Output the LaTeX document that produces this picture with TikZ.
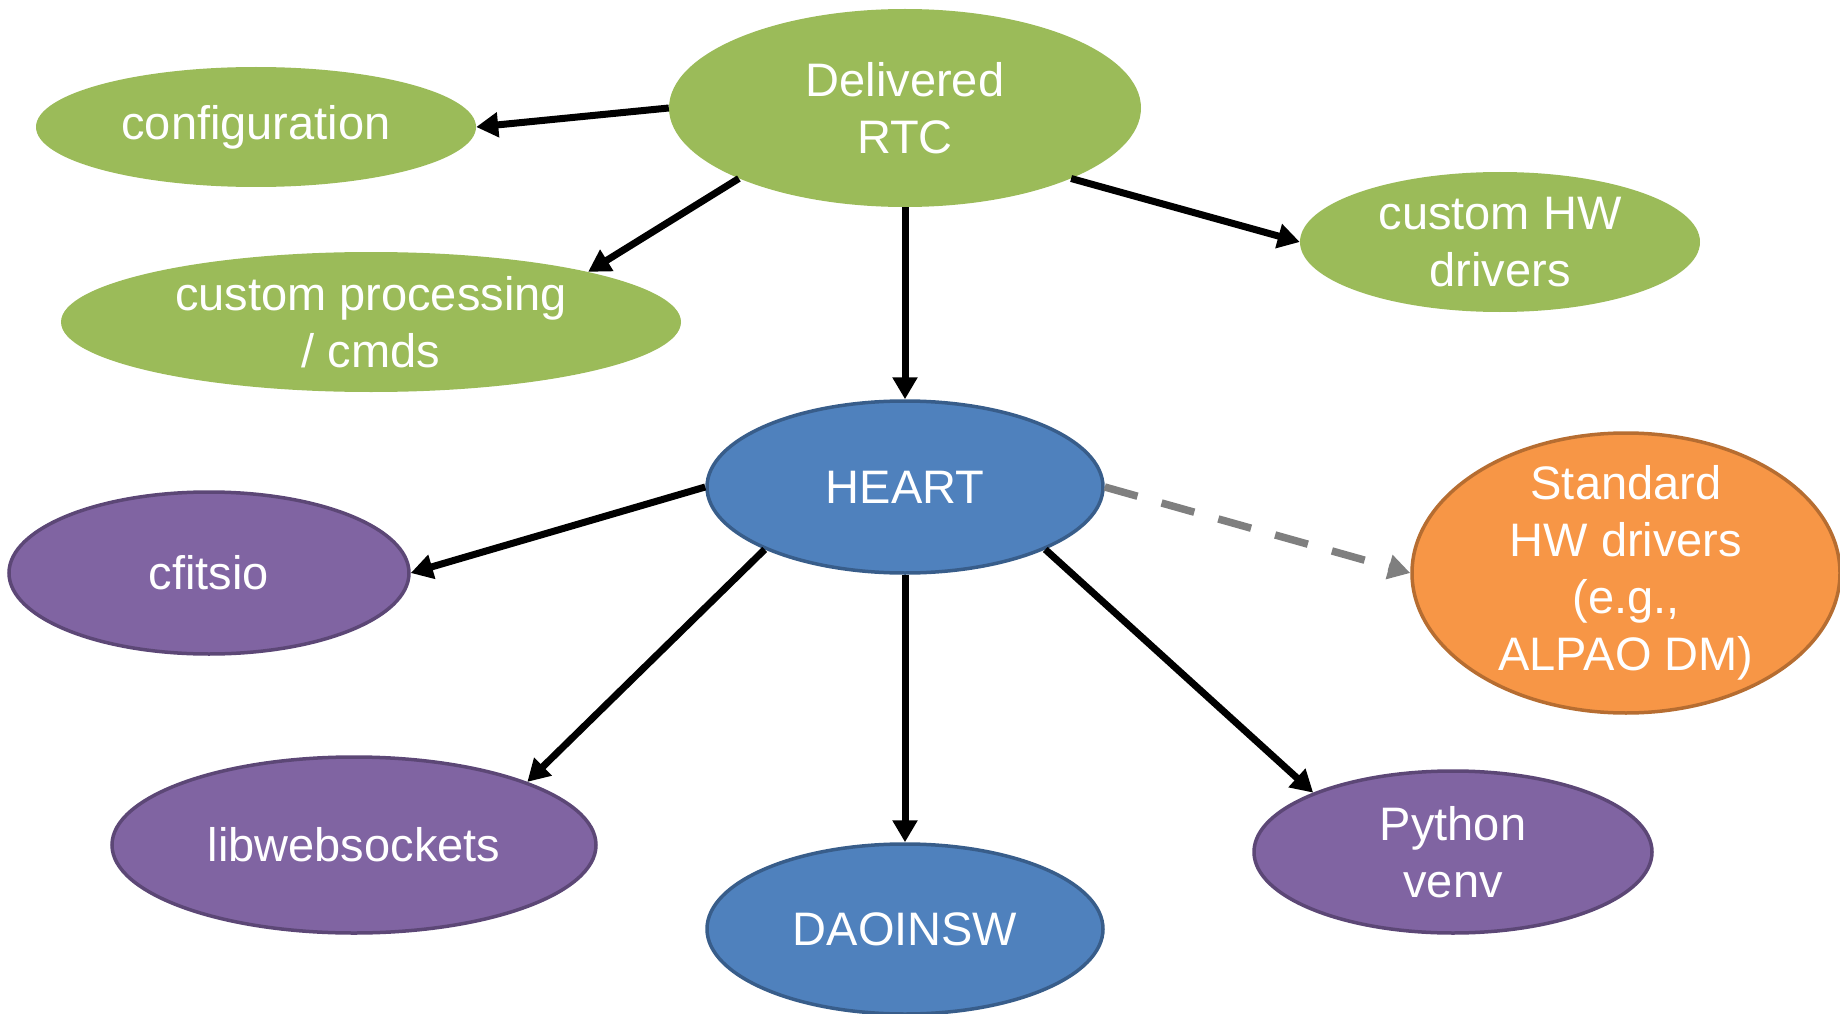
\documentclass[tikz,border=0pt]{standalone}
\usepackage{fontspec}
\setmainfont{Liberation Sans}
\usetikzlibrary{arrows.meta,shapes.geometric}
\definecolor{grn}{HTML}{9BBB59}
\definecolor{blu}{HTML}{4F81BD}
\definecolor{bluD}{HTML}{385D8A}
\definecolor{pur}{HTML}{8064A2}
\definecolor{purD}{HTML}{5C4776}
\definecolor{org}{HTML}{F79646}
\definecolor{orgD}{HTML}{B66D31}
\definecolor{dgray}{HTML}{7F7F7F}
\tikzset{
  blob/.style={ellipse, inner sep=-40pt, text=white, align=center,
    font=\fontsize{47}{57}\selectfont},
  grnblob/.style={blob, fill=grn},
  blublob/.style={blob, fill=blu, draw=bluD, line width=3.5pt},
  purblob/.style={blob, fill=pur, draw=purD, line width=3.5pt},
  orgblob/.style={blob, fill=org, draw=orgD, line width=3.5pt},
  conn/.style={line width=7pt, -{Triangle[length=22pt,width=24pt]}},
  dconn/.style={line width=7.5pt, draw=dgray, dash pattern=on 34pt off 25pt,
    -{Triangle[length=22pt,width=24pt,fill=dgray]}}
}
\begin{document}
\begin{tikzpicture}[x=1pt,y=-1pt]
\useasboundingbox (0,0) rectangle (1840,1014);
\node[grnblob, minimum width=472pt, minimum height=198pt] (rtc) at (905,108) {Delivered\\RTC};
\node[grnblob, minimum width=440pt, minimum height=120pt] (conf) at (256,127) {configuration};
\node[grnblob, minimum width=620pt, minimum height=140pt] (proc) at (371,322) {custom processing\\/ cmds};
\node[grnblob, minimum width=400pt, minimum height=140pt] (hw) at (1500,242) {custom HW\\drivers};
\node[blublob, minimum width=396pt, minimum height=172pt] (heart) at (905,487) {HEART};
\node[orgblob, minimum width=428pt, minimum height=280pt] (std) at (1626,573) {Standard\\HW drivers\\(e.g.,\\ALPAO DM)};
\node[purblob, minimum width=400pt, minimum height=162pt] (cfits) at (209,573) {cfitsio};
\node[purblob, minimum width=484pt, minimum height=176pt] (lws) at (354,845) {libwebsockets};
\node[blublob, minimum width=396pt, minimum height=170pt] (dao) at (905,929) {DAOINSW};
\node[purblob, minimum width=398pt, minimum height=162pt] (py) at (1453,852) {Python\\venv};

\draw[conn] (rtc.west) -- (conf.east);
\draw[conn] (rtc.203) -- (proc.13);
\draw[conn] (rtc.337) -- (hw.west);
\draw[conn] (rtc.south) -- (heart.north);
\draw[conn] (heart.west) -- (cfits.east);
\draw[conn] (heart.204) -- (lws.20);
\draw[conn] (heart.south) -- (dao.north);
\draw[conn] (heart.336) -- (py.157);
\draw[dconn] (heart.east) -- (std.west);
\end{tikzpicture}
\end{document}
